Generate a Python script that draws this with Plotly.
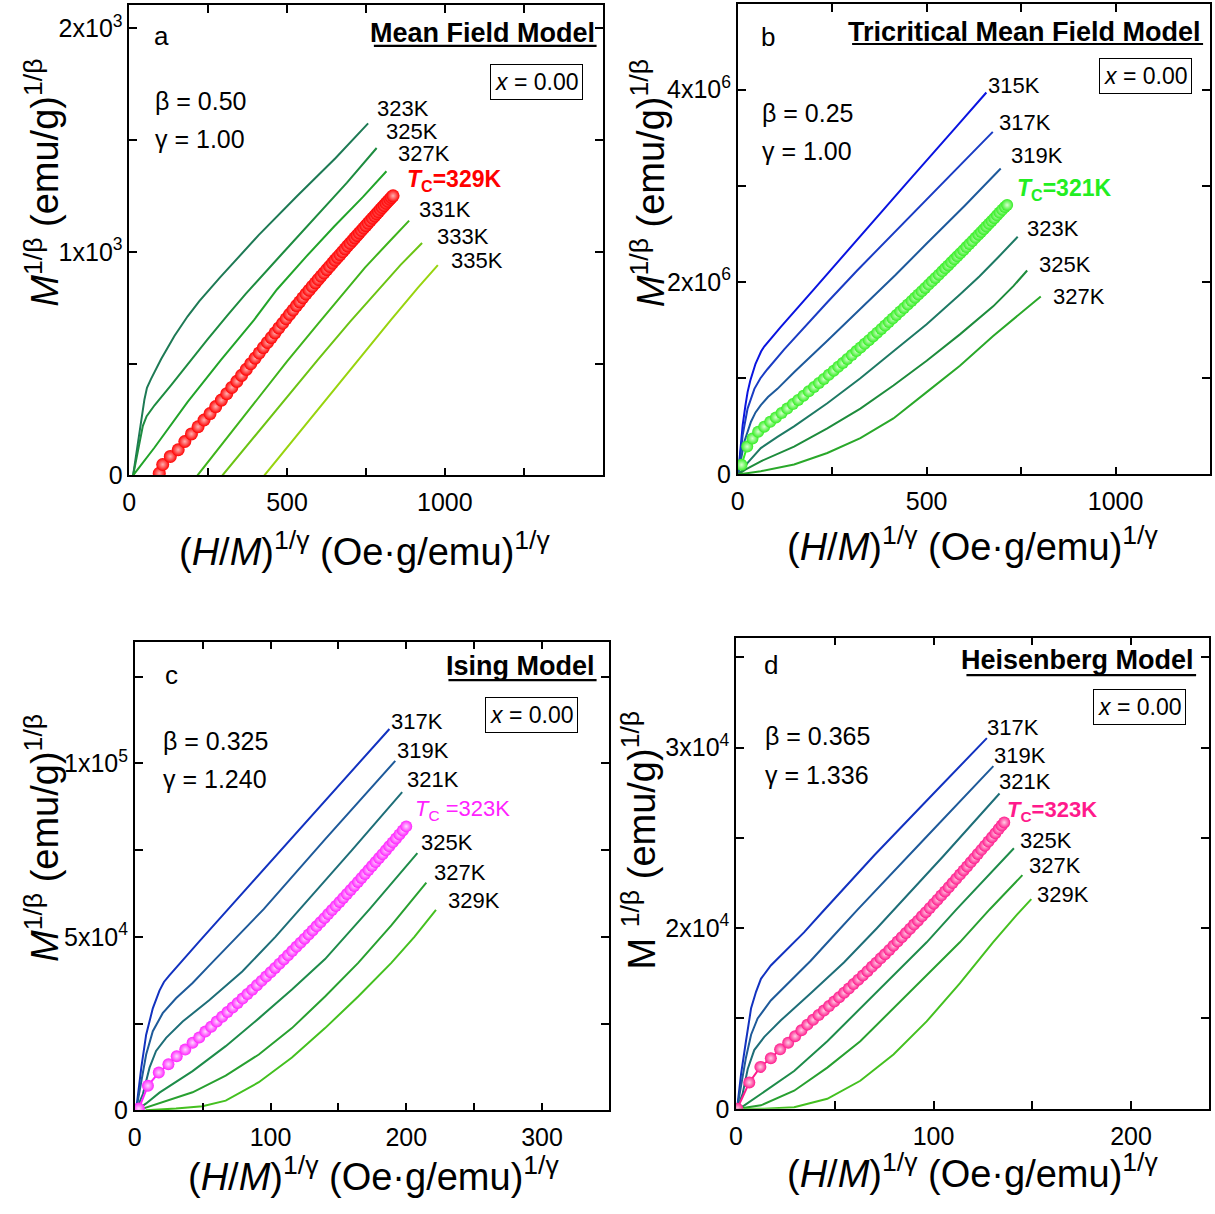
import plotly.graph_objects as go

FIG_W, FIG_H = 1215, 1214
FONT = "Liberation Sans, Arial, Helvetica, sans-serif"

# ---------------- (a) Mean field model: beta = 0.50, gamma = 1.00 ----------------
a_323K_x = [12, 22, 33, 42, 48, 56, 69, 101, 143, 185, 222, 258, 287, 410, 532, 654, 757]
a_323K_y = [0, 90, 196, 290, 340, 392, 432, 521, 624, 712, 780, 838, 885, 1075, 1250, 1420, 1575]
a_325K_x = [12, 25, 35, 43, 55, 80, 132, 185, 248, 311, 369, 480, 590, 690, 784]
a_325K_y = [0, 100, 175, 222, 265, 314, 403, 499, 609, 716, 812, 985, 1155, 1310, 1465]
a_327K_x = [12, 80, 185, 290, 395, 468, 560, 650, 740, 815]
a_327K_y = [0, 125, 329, 516, 695, 832, 978, 1115, 1245, 1361]
a_331K_x = [216, 300, 400, 500, 600, 689, 747, 820, 887]
a_331K_y = [0, 150, 330, 510, 682, 835, 930, 1040, 1140]
a_333K_x = [295, 400, 500, 600, 700, 794, 860, 928]
a_333K_y = [0, 180, 352, 522, 688, 840, 942, 1040]
a_335K_x = [428, 530, 630, 730, 830, 915, 978]
a_335K_y = [0, 178, 352, 525, 697, 840, 941]
a_tc_x = [95, 106, 130, 155, 176, 197, 218, 237, 256, 274, 292, 309, 325, 341,
          356, 371, 385, 399, 412, 425, 438, 450, 462, 474, 486, 497, 508, 519,
          530, 540, 550, 560, 570, 580, 590, 599, 608, 617, 626, 635, 644, 652,
          660, 668, 676, 684, 692, 700, 708, 715, 722, 729, 736, 743, 750, 757,
          764, 771, 778, 784, 790, 796, 802, 808, 814, 820, 826, 831, 836]
a_tc_y = [10, 49, 85, 115, 152, 186, 218, 248, 277, 308, 337, 366, 394, 421,
          448, 475, 500, 525, 548, 572, 595, 617, 638, 660, 681, 701, 721, 740,
          760, 777, 795, 812, 829, 846, 862, 877, 892, 906, 921, 935, 950, 963,
          976, 988, 1001, 1014, 1027, 1039, 1052, 1063, 1074, 1085, 1096, 1107, 1118, 1129,
          1140, 1151, 1161, 1171, 1180, 1190, 1199, 1208, 1218, 1227, 1236, 1244, 1251]
a_xticks = [0, 500, 1000]
a_yticks = [0, 1000, 2000]
a_yticktext = ["0", "1x10<sup>3</sup>", "2x10<sup>3</sup>"]

# ---------------- (b) Tricritical mean field: beta = 0.25, gamma = 1.00 (y in 1e6) ----------------
b_315K_x = [1, 5, 13, 20, 26, 33, 39.5, 47, 55, 62, 70, 114, 202, 320, 450, 580, 658]
b_315K_y = [0, 0.2, 0.514, 0.71, 0.856, 0.975, 1.062, 1.15, 1.22, 1.28, 1.33, 1.533, 1.927, 2.46, 3.04, 3.62, 3.97]
b_317K_x = [1, 13, 26, 35, 44, 60, 79, 123, 175.5, 237, 316, 420, 520, 675]
b_317K_y = [0, 0.41, 0.685, 0.80, 0.89, 1.00, 1.096, 1.30, 1.53, 1.79, 2.12, 2.54, 2.94, 3.56]
b_319K_x = [1, 17.5, 35, 47, 61, 80, 105, 149, 237, 324.5, 416.7, 500, 600, 696]
b_319K_y = [0, 0.342, 0.548, 0.645, 0.72, 0.805, 0.89, 1.062, 1.39, 1.72, 2.07, 2.40, 2.79, 3.18]
b_323K_x = [1, 9, 26, 61, 105, 149, 237, 324.5, 412, 500, 588, 640, 690, 741]
b_323K_y = [0, 0.03, 0.12, 0.274, 0.39, 0.50, 0.74, 1.0, 1.28, 1.56, 1.87, 2.06, 2.26, 2.47]
b_325K_x = [1, 20, 61, 149, 237, 324.5, 412, 500, 588, 676, 730, 766]
b_325K_y = [0, 0.05, 0.137, 0.29, 0.48, 0.685, 0.925, 1.182, 1.456, 1.747, 1.96, 2.12]
b_327K_x = [1, 61, 149, 237, 324.5, 412, 500, 588, 676, 763, 802]
b_327K_y = [0, 0.034, 0.103, 0.223, 0.377, 0.582, 0.856, 1.13, 1.44, 1.73, 1.85]
b_tc_x = [10, 25, 39, 54, 70, 86, 101, 116, 131, 146, 160, 174, 188, 202, 215, 228,
          241, 254, 266, 278, 290, 302, 314, 325, 336, 347, 358, 369, 380, 390, 400,
          410, 420, 430, 440, 450, 460, 469, 478, 487, 496, 505, 514, 523, 532, 541,
          549, 557, 565, 573, 581, 589, 597, 605, 613, 621, 629, 637, 644, 651, 658,
          665, 672, 679, 686, 693, 700, 707, 713]
b_tc_y = [0.10, 0.29, 0.375, 0.445, 0.497, 0.548, 0.593, 0.639, 0.685, 0.731, 0.775,
          0.819, 0.864, 0.909, 0.951, 0.993, 1.036, 1.079, 1.119, 1.159, 1.200, 1.241,
          1.282, 1.320, 1.358, 1.396, 1.435, 1.474, 1.513, 1.548, 1.584, 1.621, 1.657,
          1.693, 1.730, 1.767, 1.804, 1.837, 1.871, 1.905, 1.939, 1.973, 2.007, 2.042,
          2.076, 2.111, 2.142, 2.173, 2.205, 2.236, 2.268, 2.299, 2.331, 2.363, 2.395,
          2.427, 2.459, 2.492, 2.520, 2.549, 2.577, 2.606, 2.635, 2.664, 2.693, 2.722,
          2.751, 2.780, 2.800]
b_xticks = [0, 500, 1000]
b_yticks = [0, 2e6, 4e6]
b_yticktext = ["0", "2x10<sup>6</sup>", "4x10<sup>6</sup>"]

# ---------------- (c) Ising model: beta = 0.325, gamma = 1.240 (y in 1e4) ----------------
c_317K_x = [1, 4.8, 8.4, 13.3, 18.2, 21.5, 25.5, 35.3, 47.4, 67, 100, 140, 187.6]
c_317K_y = [0, 1.23, 2.18, 2.94, 3.45, 3.70, 3.89, 4.33, 4.86, 5.72, 7.16, 8.92, 10.99]
c_319K_x = [1, 4.8, 8.4, 13.3, 20.6, 30.4, 42.6, 54.8, 67, 79.2, 95, 140, 191.9]
c_319K_y = [0, 0.85, 1.61, 2.28, 2.80, 3.23, 3.67, 4.17, 4.66, 5.15, 5.80, 7.80, 10.07]
c_321K_x = [1, 6, 10.9, 15.7, 23.1, 35.3, 54.8, 79.2, 103.6, 120.7, 160, 197]
c_321K_y = [0, 0.47, 1.23, 1.71, 2.09, 2.56, 3.17, 4.0, 5.0, 5.75, 7.5, 9.17]
c_325K_x = [1, 8.4, 18.2, 42.6, 67, 91.4, 115.8, 140.2, 173, 208.2]
c_325K_y = [0, 0.2, 0.51, 1.13, 1.85, 2.65, 3.48, 4.36, 5.80, 7.41]
c_327K_x = [2, 18.2, 42.6, 67, 91.4, 115.8, 140.2, 164.6, 189, 214.8]
c_327K_y = [0, 0.2, 0.52, 1.0, 1.61, 2.37, 3.28, 4.25, 5.33, 6.56]
c_329K_x = [8, 20, 30.4, 49.9, 67, 91.4, 115.8, 140.2, 164.6, 189, 206, 221.9]
c_329K_y = [0, 0.02, 0.05, 0.12, 0.28, 0.81, 1.52, 2.37, 3.28, 4.25, 5.0, 5.78]
c_tc_x = [0.5, 3, 9.7, 17.7, 24.8, 30.9, 37.2, 42.6, 47.5, 52, 56.3, 60.4, 64.4,
          68.3, 72.1, 75.8, 79.4, 83, 86.5, 90, 93.4, 96.8, 100.1, 103.4, 106.6,
          109.8, 112.9, 116, 119.1, 122.1, 125.1, 128.1, 131, 133.9, 136.8, 139.7,
          142.5, 145.3, 148.1, 150.9, 153.6, 156.3, 159, 161.7, 164.4, 167, 169.6,
          172.2, 174.8, 177.4, 180, 182.5, 185, 187.5, 190, 192.5, 195, 197.5, 200]
c_tc_y = [0.02, 0.05, 0.71, 1.09, 1.33, 1.56, 1.75, 1.95, 2.10, 2.27, 2.41, 2.56,
          2.697, 2.831, 2.964, 3.094, 3.222, 3.351, 3.478, 3.606, 3.731, 3.857, 3.981,
          4.105, 4.227, 4.349, 4.469, 4.590, 4.711, 4.829, 4.948, 5.068, 5.185, 5.302,
          5.420, 5.539, 5.655, 5.771, 5.888, 6.006, 6.120, 6.234, 6.350, 6.466, 6.583,
          6.696, 6.809, 6.924, 7.039, 7.154, 7.270, 7.382, 7.495, 7.608, 7.722, 7.837,
          7.952, 8.067, 8.183]
c_xticks = [0, 100, 200, 300]
c_yticks = [0, 5e4, 1e5]
c_yticktext = ["0", "5x10<sup>4</sup>", "1x10<sup>5</sup>"]

# ---------------- (d) Heisenberg model: beta = 0.365, gamma = 1.336 (y in 1e4) ----------------
d_317K_x = [0.5, 2.5, 5, 7.6, 10.1, 12.6, 17.6, 26, 34.4, 43.7, 70, 100, 127]
d_317K_y = [1.0, 1.19, 1.374, 1.557, 1.648, 1.72, 1.794, 1.885, 1.977, 2.09, 2.404, 2.746, 3.053]
d_319K_x = [0.5, 2.5, 5, 7.6, 10.9, 17.6, 26, 37.8, 49.5, 61.3, 95, 130.3]
d_319K_y = [1.0, 1.137, 1.283, 1.41, 1.5, 1.60, 1.69, 1.82, 1.96, 2.10, 2.49, 2.898]
d_321K_x = [0.5, 3.3, 5.9, 9.2, 14.3, 22.7, 37.8, 54.6, 71.3, 78.9, 105, 133.4]
d_321K_y = [1.0, 1.082, 1.22, 1.325, 1.398, 1.49, 1.64, 1.81, 2.0, 2.09, 2.40, 2.746]
d_325K_x = [1, 4.2, 12.6, 29.4, 46.2, 62.9, 79.7, 96.5, 111.6, 140.7]
d_325K_y = [1.0, 1.019, 1.082, 1.209, 1.374, 1.557, 1.74, 1.922, 2.104, 2.443]
d_327K_x = [1, 12.6, 29.4, 46.2, 62.9, 79.7, 96.5, 113.3, 128.4, 145]
d_327K_y = [1.0, 1.019, 1.1, 1.228, 1.374, 1.557, 1.74, 1.922, 2.104, 2.294]
d_329K_x = [4, 14.3, 29.4, 46.2, 62.9, 79.7, 96.5, 113.3, 130.1, 141.8, 149.5]
d_329K_y = [1.0, 1.0, 1.009, 1.055, 1.155, 1.301, 1.484, 1.694, 1.922, 2.07, 2.161]
d_tc_x = [0.6, 6.7, 12.3, 17.6, 22.3, 26.4, 29.9, 33.1, 36.1, 39, 41.8, 44.5, 47.1,
          49.7, 52.2, 54.7, 57.1, 59.5, 61.9, 64.2, 66.5, 68.8, 71, 73.2, 75.4, 77.6,
          79.7, 81.8, 83.9, 86, 88.1, 90.1, 92.1, 94.1, 96.1, 98.1, 100.1, 102, 103.9,
          105.8, 107.7, 109.6, 111.5, 113.4, 115.2, 117, 118.8, 120.6, 122.4, 124.2,
          126, 127.8, 129.6, 131.3, 133, 134.5, 135.8]
d_tc_y = [1.0, 1.146, 1.232, 1.28, 1.329, 1.366, 1.402, 1.435, 1.466, 1.493, 1.519,
          1.544, 1.569, 1.594, 1.618, 1.643, 1.666, 1.691, 1.715, 1.738, 1.762, 1.786,
          1.809, 1.833, 1.856, 1.880, 1.903, 1.926, 1.950, 1.973, 1.997, 2.020, 2.042,
          2.066, 2.089, 2.112, 2.136, 2.158, 2.181, 2.204, 2.227, 2.250, 2.274, 2.297,
          2.320, 2.342, 2.365, 2.388, 2.411, 2.434, 2.457, 2.480, 2.504, 2.526, 2.549,
          2.569, 2.586]
d_xticks = [0, 100, 200]
d_yticks = [1e4, 2e4, 3e4]
d_yticktext = ["0", "2x10<sup>4</sup>", "3x10<sup>4</sup>"]

# ---------------- figure ----------------
fig = go.Figure()


def fx(p):
    return p / FIG_W


def fy(p):
    return 1 - p / FIG_H


def add_line(x, y, color, ax, scale=1.0):
    xa, ya = ax
    fig.add_trace(go.Scatter(
        x=x, y=[v * scale for v in y], mode="lines",
        line=dict(color=color, width=2),
        xaxis=xa, yaxis=ya, showlegend=False, hoverinfo="skip"))


def add_balls(x, y, color, light, size, ax, scale=1.0):
    xa, ya = ax
    fig.add_trace(go.Scatter(
        x=x, y=[v * scale for v in y], mode="lines+markers",
        line=dict(color=color, width=2),
        marker=dict(size=size, color=color, line=dict(width=0),
                    gradient=dict(type="radial", color=light)),
        xaxis=xa, yaxis=ya, showlegend=False, hoverinfo="skip"))


AX_A, AX_B, AX_C, AX_D = ("x", "y"), ("x2", "y2"), ("x3", "y3"), ("x4", "y4")

# panel a
add_line(a_323K_x, a_323K_y, "#1e7a55", AX_A)
add_line(a_325K_x, a_325K_y, "#1e8c40", AX_A)
add_line(a_327K_x, a_327K_y, "#22a42a", AX_A)
add_line(a_331K_x, a_331K_y, "#40b41c", AX_A)
add_line(a_333K_x, a_333K_y, "#6cc414", AX_A)
add_line(a_335K_x, a_335K_y, "#98d40f", AX_A)
add_balls(a_tc_x, a_tc_y, "#ff0000", "#ffb0b0", 13, AX_A)

# panel b
M6 = 1e6
add_line(b_315K_x, b_315K_y, "#0a14e0", AX_B, M6)
add_line(b_317K_x, b_317K_y, "#1a3cc4", AX_B, M6)
add_line(b_319K_x, b_319K_y, "#1e5a9c", AX_B, M6)
add_line(b_323K_x, b_323K_y, "#1e7a64", AX_B, M6)
add_line(b_325K_x, b_325K_y, "#1e8c3c", AX_B, M6)
add_line(b_327K_x, b_327K_y, "#2aa82a", AX_B, M6)
add_balls(b_tc_x, b_tc_y, "#33ee22", "#d8ffd0", 12, AX_B, M6)

# panel c
M4 = 1e4
add_line(c_317K_x, c_317K_y, "#1232c0", AX_C, M4)
add_line(c_319K_x, c_319K_y, "#1e5a9a", AX_C, M4)
add_line(c_321K_x, c_321K_y, "#1e6e78", AX_C, M4)
add_line(c_325K_x, c_325K_y, "#1e8c4a", AX_C, M4)
add_line(c_327K_x, c_327K_y, "#28a030", AX_C, M4)
add_line(c_329K_x, c_329K_y, "#44c020", AX_C, M4)
add_balls(c_tc_x, c_tc_y, "#ff22ff", "#ffd8ff", 12, AX_C, M4)

# panel d
add_line(d_317K_x, d_317K_y, "#1232c0", AX_D, M4)
add_line(d_319K_x, d_319K_y, "#1e5a9a", AX_D, M4)
add_line(d_321K_x, d_321K_y, "#1e6e78", AX_D, M4)
add_line(d_325K_x, d_325K_y, "#1e8c4a", AX_D, M4)
add_line(d_327K_x, d_327K_y, "#28a030", AX_D, M4)
add_line(d_329K_x, d_329K_y, "#44c020", AX_D, M4)
add_balls(d_tc_x, d_tc_y, "#ff1a8c", "#ffd0e6", 12, AX_D, M4)


def make_axes(box, xrange, xticks, xminor, yrange, yticks, yticktext, yminor, anchor_x, anchor_y):
    left, right, top, bottom = box
    common = dict(showline=True, linecolor="black", linewidth=1.5, mirror="ticks",
                  ticks="inside", ticklen=8, tickwidth=1.5, tickcolor="black",
                  showgrid=False, zeroline=False,
                  tickfont=dict(family=FONT, size=25, color="black"))
    xa = dict(common, domain=[fx(left), fx(right)], range=xrange, anchor=anchor_y,
              tickmode="array", tickvals=xticks, ticklabelstandoff=4,
              minor=dict(tickvals=xminor, ticks="inside", ticklen=8, tickwidth=1.5, tickcolor="black"))
    ya = dict(common, domain=[fy(bottom), fy(top)], range=yrange, anchor=anchor_x,
              tickmode="array", tickvals=yticks, ticktext=yticktext,
              minor=dict(tickvals=yminor, ticks="inside", ticklen=8, tickwidth=1.5, tickcolor="black"))
    return xa, ya


xa1, ya1 = make_axes((123, 599, 5, 481), [0, 1500], a_xticks, [250, 750, 1250],
                     [0, 2105], a_yticks, a_yticktext, [500, 1500], "x", "y")
xa2, ya2 = make_axes((735, 1210, 4, 480), [0, 1250], b_xticks, [250, 750],
                     [0, 4.89e6], b_yticks, b_yticktext, [1e6, 3e6], "x2", "y2")
xa3, ya3 = make_axes((128.5, 605, 649, 1123.3), [0, 349], c_xticks, [50, 150, 250],
                     [0, 1.351e5], c_yticks, c_yticktext, [2.5e4, 7.5e4, 1.25e5], "x3", "y3")
xa4, ya4 = make_axes((733.3, 1209, 645, 1121.7), [0, 239.5], d_xticks, [50, 150],
                     [1e4, 3.61e4], d_yticks, d_yticktext, [1.5e4, 2.5e4, 3.5e4], "x4", "y4")

anns = []
shapes = []


def text(x, y, s, size=22, color="black", xanchor="center", yanchor="middle", **kw):
    d = dict(x=fx(x), y=fy(y), xref="paper", yref="paper", text=s, showarrow=False,
             xanchor=xanchor, yanchor=yanchor,
             font=dict(family=FONT, size=size, color=color))
    d.update(kw)
    anns.append(d)


YT = "<i>M</i><sup>1/β</sup> (emu/g)<sup>1/β</sup>"
YT_D = "M <sup>1/β</sup> (emu/g)<sup>1/β</sup>"
XT = "(<i>H</i>/<i>M</i>)<sup>1/γ</sup> (Oe·g/emu)<sup>1/γ</sup>"

for (x, y, s) in [(35, 185, YT), (645, 185, YT), (35, 848, YT), (636, 850, YT_D)]:
    text(x, y, s, size=38, textangle=-90)
for (x, y) in [(360, 555), (971, 550), (369, 1188), (971, 1185)]:
    text(x, y, XT, size=38)

# panel letters
for (x, y, s) in [(155, 36, "a"), (765, 37, "b"), (165, 683, "c"), (768, 673, "d")]:
    text(x, y, s, size=26)

# model names with a rule underneath
for (x0, x1, y, yline, s) in [(369, 593, 33, 46.5, "Mean Field Model"),
                              (850, 1203, 32, 44.5, "Tricritical Mean Field Model"),
                              (444, 593, 674, 688, "Ising Model"),
                              (965, 1196, 668, 683, "Heisenberg Model")]:
    anns.append(dict(x=fx(x1), y=fy(y), xref="paper", yref="paper", text="<b>" + s + "</b>",
                     showarrow=False, xanchor="right", yanchor="middle",
                     font=dict(family=FONT, size=27, color="black")))
    shapes.append(dict(type="line", xref="paper", yref="paper",
                       x0=fx(x0), x1=fx(x1), y0=fy(yline), y1=fy(yline),
                       line=dict(color="black", width=2.2)))

# composition boxes
for (x, y) in [(532.5, 83), (1145, 77), (528, 723), (1139.5, 715.5)]:
    text(x, y, "<i>x</i> = 0.00", size=23, bordercolor="black", borderwidth=1,
         borderpad=4, bgcolor="white")

# exponents
for (x, y1, y2, b, g) in [(147, 102, 141, "0.50", "1.00"), (757, 114, 153, "0.25", "1.00"),
                          (155, 750, 788, "0.325", "1.240"), (760, 745, 784, "0.365", "1.336")]:
    text(x, y1, "β = " + b, size=25, xanchor="left")
    text(x, y2, "γ = " + g, size=25, xanchor="left")

# temperature labels
a_labels = [(398, 110, "323K"), (407, 133, "325K"), (419, 155, "327K"),
            (441, 212, "331K"), (459, 239, "333K"), (473, 264, "335K")]
b_labels = [(1013, 86, "315K"), (1024, 124, "317K"), (1036, 157, "319K"),
            (1052, 231, "323K"), (1064, 268, "325K"), (1078, 300, "327K")]
c_labels = [(412, 730, "317K"), (418, 759, "319K"), (428, 789, "321K"),
            (443, 852, "325K"), (456, 883, "327K"), (470, 911, "329K")]
d_labels = [(1012, 736, "317K"), (1019, 764, "319K"), (1024, 791, "321K"),
            (1045, 850, "325K"), (1054, 876, "327K"), (1062, 905, "329K")]
for (x, y, s) in a_labels + b_labels + c_labels + d_labels:
    text(x, y, s, size=22)

text(450, 183, "<b><i>T</i><sub>C</sub>=329K</b>", size=23, color="#ff0000")
text(1063, 192, "<b><i>T</i><sub>C</sub>=321K</b>", size=23, color="#22ee22")
text(458, 819, "<i>T</i><sub>C</sub> =323K", size=22, color="#ff22ff")
text(1051, 820, "<b><i>T</i><sub>C</sub>=323K</b>", size=22, color="#ff1a8c")

fig.update_layout(
    width=FIG_W, height=FIG_H,
    margin=dict(l=0, r=0, t=0, b=0),
    paper_bgcolor="white", plot_bgcolor="white",
    showlegend=False,
    font=dict(family=FONT, color="black"),
    xaxis=xa1, yaxis=ya1, xaxis2=xa2, yaxis2=ya2,
    xaxis3=xa3, yaxis3=ya3, xaxis4=xa4, yaxis4=ya4,
    annotations=anns,
    shapes=shapes,
)

fig.write_html("out.html", post_script="document.body.style.margin='0px';")
